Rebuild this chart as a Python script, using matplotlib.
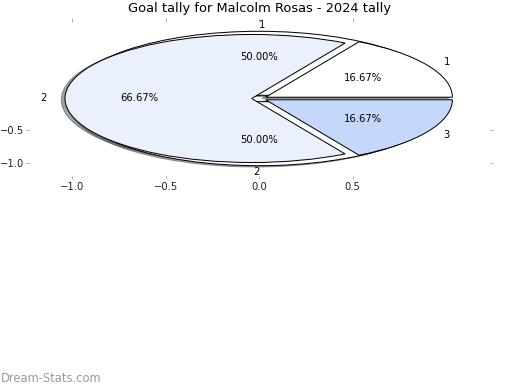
import matplotlib
matplotlib.use("Agg")
import matplotlib.pyplot as plt

# Data
title = "Goal tally for Malcolm Rosas - 2024 tally"
outer_labels = ["1", "2"]
outer_values = [1, 1]
inner_labels = ["1", "2", "3"]
inner_values = [1, 4, 1]
inner_colors = ["#ffffff", "#eaf1fd", "#c5d8fb"]
outer_colors = ["#ffffff", "#ffffff"]
xticks = [-1.0, -0.5, 0.0, 0.5]
yticks = [-1.0, -0.5]

fig = plt.figure(figsize=(520 / 72, 390 / 72), dpi=72)
ax = fig.add_axes([0.0496, 0.5423, 0.8977, 0.4103])

wp = dict(edgecolor="black", linewidth=1.0)
_, outer_texts, _ = ax.pie(outer_values, labels=outer_labels, autopct="%.2f%%",
       explode=[0.05] * len(outer_values), shadow=True, colors=outer_colors,
       wedgeprops=wp, frame=True, textprops=dict(fontsize=10, color="black"))
outer_texts[0].set_ha("left")
outer_texts[1].set_ha("right")
ax.pie(inner_values, labels=inner_labels, autopct="%.2f%%",
       explode=[0.04] * len(inner_values), shadow=True, colors=inner_colors,
       wedgeprops=wp, frame=True, textprops=dict(fontsize=10, color="black"))

ax.set_aspect("auto")
ax.set_xlim(-1.25, 1.25)
ax.set_ylim(-1.25, 1.25)
ax.set_xticks(xticks)
ax.set_yticks(yticks)
for s in ax.spines.values():
    s.set_visible(False)
ax.tick_params(direction="in", top=True, right=True, color="#b4b4b4",
               labelsize=10, labelcolor="#222222", length=3.5, width=1.0)
ax.tick_params(axis="y", pad=1.2)
ax.set_title(title, fontsize=13, pad=6)

fig.text(0.002, 0.012, "Dream-Stats.com", fontsize=11.5, color="#999999",
         ha="left", va="bottom")

fig.savefig("out.png", dpi=72)
